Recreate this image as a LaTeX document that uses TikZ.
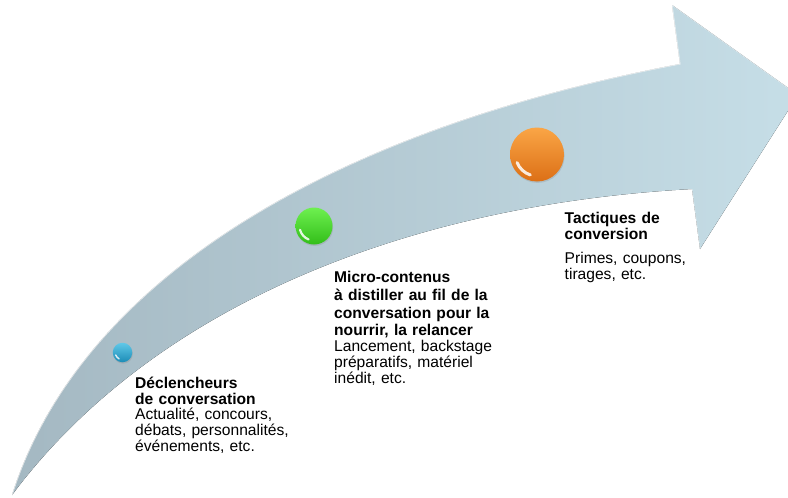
\documentclass[tikz,border=0pt]{standalone}
\usepackage{fontspec}
\setmainfont{Liberation Sans}
\usetikzlibrary{shadows}

\definecolor{shaftdark}{RGB}{164,184,194}
\definecolor{shaftlight}{RGB}{198,222,231}
\definecolor{blueTop}{RGB}{96,200,232}
\definecolor{blueBot}{RGB}{28,140,182}
\definecolor{greenTop}{RGB}{110,240,80}
\definecolor{greenBot}{RGB}{50,190,25}
\definecolor{orangeTop}{RGB}{250,165,70}
\definecolor{orangeBot}{RGB}{220,112,22}

\newcommand\captionfont{\fontsize{15.6}{15.8}\selectfont}

\begin{document}
\lineskiplimit=-10pt
\begin{tikzpicture}[x=1pt, y=-1pt,
  bead/.style={circle, inner sep=0pt, draw=none,
    drop shadow={opacity=0.25, shadow xshift=0.6pt, shadow yshift=-1.4pt}},
  gloss/.style={white, line cap=round, opacity=0.85},
  blocktext/.style={anchor=base west, inner sep=0pt, text width=210pt,
    align=left, font=\captionfont},
]
\useasboundingbox (0,0) rectangle (788,498);
\fill[white] (0,0) rectangle (788,498);

% curved arrow outline
\coordinate (tail)  at (12,495);
\coordinate (unotch) at (680,64);
\coordinate (htop)  at (672,5);
\coordinate (htip)  at (798,95);
\coordinate (hbot)  at (700,249);
\coordinate (lnotch) at (692,189);

\begin{scope}
\clip (0,0) rectangle (788,498);
\fill[left color=shaftdark, right color=shaftlight]
  (tail) .. controls (80,280) and (330,130) .. (unotch)
  -- (htop) -- (htip) -- (hbot) -- (lnotch)
  .. controls (400,205) and (150,310) .. (tail) -- cycle;
% light bevel along the edges
\draw[white, opacity=0.7, line width=1pt]
  (tail) .. controls (80,280) and (330,130) .. (unotch) -- (htop);
\draw[white, opacity=0.45, line width=0.8pt] (htop) -- (htip);
\draw[white, opacity=0.45, line width=0.8pt] (hbot) -- (lnotch);
\end{scope}

% beads on the arrow
\node[bead, minimum size=19.5pt, top color=blueTop, bottom color=blueBot] (b1) at (122.5,352.5) {};
\node[bead, minimum size=37pt, top color=greenTop, bottom color=greenBot] (b2) at (314,226) {};
\node[bead, minimum size=54pt, top color=orangeTop, bottom color=orangeBot] (b3) at (537,154.5) {};

\draw[gloss, line width=1.4pt] (b1.center) ++(118:7.2) arc (118:160:7.2);
\draw[gloss, line width=2.2pt] (b2.center) ++(112:14.5) arc (112:165:14.5);
\draw[gloss, line width=3pt] (b3.center) ++(108:21.5) arc (108:158:21.5);

% captions
\node[blocktext] (t1) at (135,388.3)
  {\textbf{Déclencheurs}\\
   \textbf{de conversation}\\
   Actualité, concours,\\
   débats, personnalités,\\
   événements, etc.};

\node[blocktext] (t2) at (334,282.3)
  {\textbf{Micro-contenus}\\[2.2pt]
   \textbf{à distiller au fil de la}\\[2.2pt]
   \textbf{conversation pour la}\\[1.8pt]
   \textbf{nourrir, la relancer}\\
   Lancement, backstage\\
   préparatifs, matériel\\
   inédit, etc.};

\node[blocktext] (t3) at (564.5,223.7)
  {\textbf{Tactiques de}\\
   \textbf{conversion}\\[8pt]
   Primes, coupons,\\
   tirages, etc.};
\end{tikzpicture}
\end{document}
